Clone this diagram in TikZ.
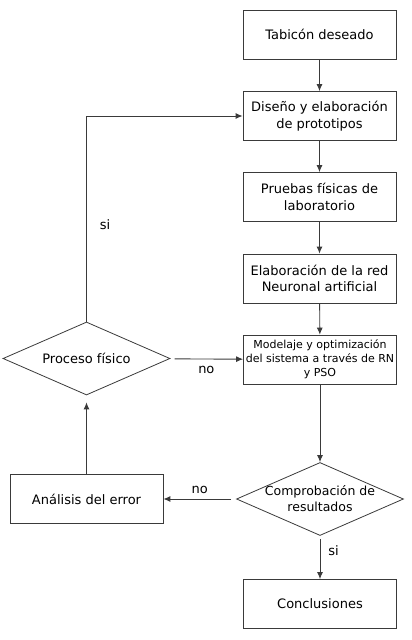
\documentclass[tikz,border=0pt]{standalone}
\usepackage{fontspec}
\setmainfont{DejaVu Sans}
\usepackage{tikz}
\usetikzlibrary{positioning}
\usetikzlibrary{shapes.geometric}
\usetikzlibrary{arrows.meta}
\usetikzlibrary{calc}
\definecolor{linea}{HTML}{3A3A3A}
\tikzset{
  paso/.style={draw=linea,line width=0.8pt,rectangle,minimum width=153pt,minimum height=49pt,
    align=center,inner sep=2pt,font=\fontsize{13}{16.5}\selectfont},
  rombo/.style={draw=linea,line width=0.8pt,diamond,minimum width=167pt,minimum height=73pt,
    inner sep=0pt,aspect=2.29,font=\fontsize{13}{16.5}\selectfont},
  flecha/.style={draw=linea,line width=0.9pt,-{Latex[length=7pt,width=6pt]}},
  etiqueta/.style={font=\fontsize{13}{16}\selectfont,inner sep=0pt}
}
\begin{document}
\begin{tikzpicture}[x=1pt,y=-1pt]
\useasboundingbox (0,0) rectangle (412,640);
% main column
\node[paso] (tabicon) at (319.5,34.5) {Tabicón deseado};
\node[paso] (diseno) at (319.5,116) {Diseño y elaboración\\de prototipos};
\node[paso] (pruebas) at (319.5,197) {Pruebas físicas de\\laboratorio};
\node[paso] (red) at (319.5,278.5) {Elaboración de la red\\Neuronal artificial};
\node[paso,font=\fontsize{11}{14}\selectfont] (modelaje) at (320,359.5) {Modelaje y optimización\\del sistema a través de RN\\y PSO};
\node[rombo,label={[align=center,font=\fontsize{12.5}{16}\selectfont]center:Comprobación de\\resultados}] (comprob) at (320,499) {};
\node[paso] (conclus) at (320,604) {Conclusiones};
% left column
\node[rombo] (proceso) at (86.5,358.5) {Proceso físico};
\node[paso] (analisis) at (86.5,499) {Análisis del error};
% arrows
\draw[flecha] (tabicon) -- (diseno);
\draw[flecha] (diseno) -- (pruebas);
\draw[flecha] (pruebas) -- (red);
\draw[flecha] (red) -- (modelaje);
\draw[flecha] (modelaje) -- (comprob);
\draw[flecha,shorten <=3pt] (comprob) -- node[etiqueta,pos=0.35,anchor=west,xshift=8pt] {si} (conclus);
\draw[flecha,shorten <=5pt] (comprob) -- node[etiqueta,midway,above=5pt] {no} (analisis);
\draw[flecha,shorten >=7pt] (analisis) -- (proceso);
\draw[flecha,shorten <=5pt] (proceso) -- node[etiqueta,midway,below=7pt] {no} (modelaje);
\draw[flecha] (proceso.north) |- node[etiqueta,pos=0.25,anchor=west,xshift=13pt,yshift=-6pt] {si} (diseno.west);
\end{tikzpicture}
\end{document}
